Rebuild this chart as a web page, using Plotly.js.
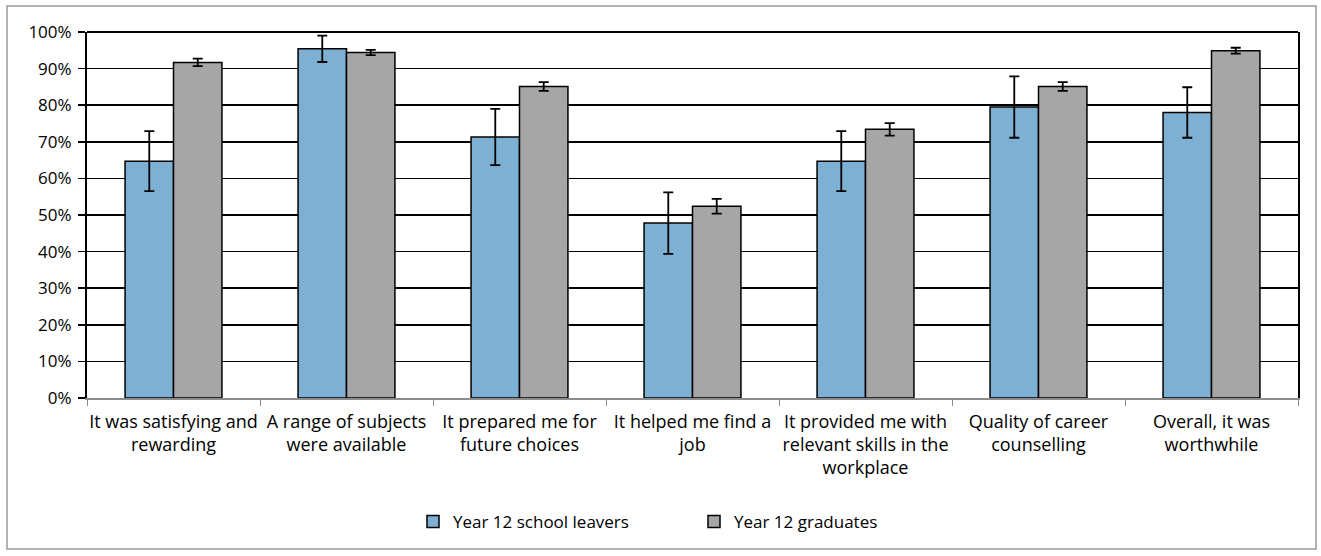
<!DOCTYPE html>
<html>
<head>
<meta charset="utf-8">
<script src="https://cdn.plot.ly/plotly-3.0.1.min.js"></script>
<style>
html,body{margin:0;padding:0;background:#fff;}
#chart{width:1321px;height:556px;}
</style>
</head>
<body>
<div id="chart"></div>
<script>
const categories = [
  "It was satisfying and<br>rewarding",
  "A range of subjects<br>were available",
  "It prepared me for<br>future choices",
  "It helped me find a<br>job",
  "It provided me with<br>relevant skills in the<br>workplace",
  "Quality of career<br>counselling",
  "Overall, it was<br>worthwhile"
];
const seriesNames = ["Year 12 school leavers", "Year 12 graduates"];
const leavers = [0.647, 0.954, 0.713, 0.478, 0.647, 0.795, 0.780];
const leaversErr = [0.082, 0.036, 0.077, 0.084, 0.082, 0.084, 0.069];
const graduates = [0.917, 0.944, 0.851, 0.524, 0.734, 0.851, 0.949];
const graduatesErr = [0.010, 0.007, 0.012, 0.020, 0.017, 0.012, 0.008];
const yTickVals = [0,0.1,0.2,0.3,0.4,0.5,0.6,0.7,0.8,0.9,1.0];

const FONT = "Open Sans, Lato, DejaVu Sans, sans-serif";

function barTrace(name, y, err, color) {
  return {
    type: "bar",
    name: name,
    x: categories,
    y: y,
    marker: {color: color, line: {color: "#000000", width: 1.5}},
    error_y: {type: "data", array: err, visible: true, color: "#000000", thickness: 1.8, width: 5},
    hoverinfo: "skip"
  };
}

const data = [
  barTrace(seriesNames[0], leavers, leaversErr, "#7DB0D2"),
  barTrace(seriesNames[1], graduates, graduatesErr, "#A6A6A6")
];

const L = 87, R = 1298, T = 32, B = 398, W = 1321, H = 556;
const pw = R - L, ph = B - T;
function px(x){ return (x - L) / pw; }
function py(y){ return (B - y) / ph; }

const layout = {
  width: W, height: H,
  margin: {l: L, r: W - R, t: T, b: H - B, pad: 0},
  paper_bgcolor: "#ffffff",
  plot_bgcolor: "#ffffff",
  font: {family: FONT, size: 17, color: "#000000"},
  barmode: "group",
  bargap: 0.44,
  bargroupgap: 0,
  showlegend: true,
  legend: {
    orientation: "h",
    x: px(413), xanchor: "left",
    y: py(522), yanchor: "middle",
    font: {family: FONT, size: 17, color: "#000000"},
    itemwidth: 30,
    entrywidth: 236,
    entrywidthmode: "pixels",
    tracegroupgap: 0,
    bgcolor: "rgba(0,0,0,0)"
  },
  xaxis: {
    type: "category",
    showline: true, linecolor: "#8C8C8C", linewidth: 2,
    ticks: "outside", tickson: "boundaries", ticklen: 6, tickcolor: "#8C8C8C", tickwidth: 1,
    ticklabelstandoff: 6,
    tickangle: 0,
    tickfont: {family: FONT, size: 18, color: "#000000"},
    showgrid: false,
    fixedrange: true
  },
  yaxis: {
    range: [0, 1],
    tickvals: yTickVals,
    tickformat: ".0%",
    showline: true, linecolor: "#000000", linewidth: 2, mirror: true,
    ticks: "outside", ticklen: 7, tickcolor: "#000000", tickwidth: 1.5,
    showgrid: true, gridcolor: "#000000", gridwidth: 1.5,
    zeroline: false,
    ticklabelstandoff: 3,
    tickfont: {family: FONT, size: 17, color: "#000000"},
    fixedrange: true
  },
  shapes: [
    {type: "line", xref: "paper", yref: "paper", x0: 0, x1: 1, y0: 1, y1: 1, line: {color: "#000000", width: 2}},
    {type: "rect", xref: "paper", yref: "paper", x0: px(7), x1: px(1316), y0: py(549), y1: py(6), line: {color: "#9A9A9A", width: 1.5}, fillcolor: "rgba(0,0,0,0)", layer: "below"}
  ]
};

Plotly.newPlot("chart", data, layout, {displayModeBar: false, staticPlot: true});
</script>
</body>
</html>
